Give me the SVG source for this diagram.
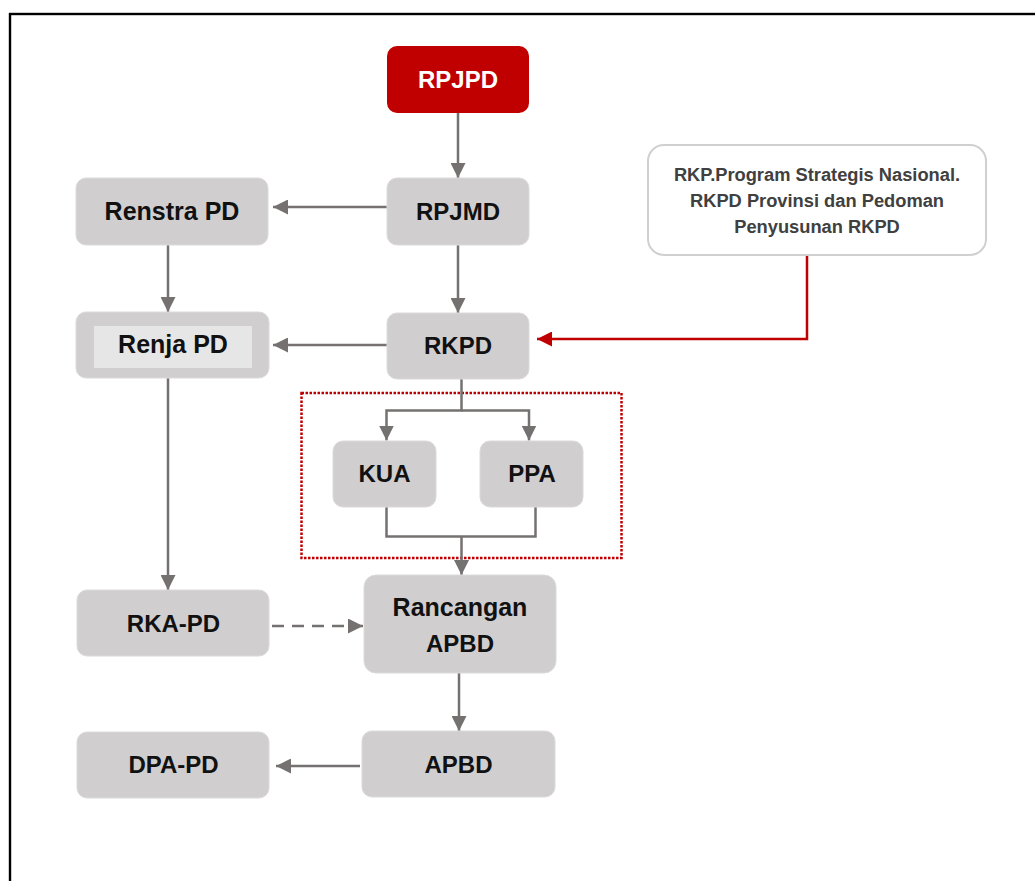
<svg xmlns="http://www.w3.org/2000/svg" width="1035" height="881" viewBox="0 0 1035 881">
<style>
.box{fill:#D0CECE;stroke:#DCDADA;stroke-width:1}
.lbl{font-family:"Liberation Sans",Arial,sans-serif;font-weight:bold;font-size:24px;fill:#111;text-anchor:middle}
.lbl2{font-size:25px}
.info{font-family:"Liberation Sans",Arial,sans-serif;font-weight:bold;font-size:18.3px;fill:#404040;text-anchor:middle}
.con{fill:none;stroke:#767171;stroke-width:2.5}
.red{fill:none;stroke:#C00000;stroke-width:2.5}
</style>
<defs>
<marker id="ag" markerUnits="userSpaceOnUse" markerWidth="15" markerHeight="15" refX="15" refY="7.5" orient="auto" viewBox="0 0 15 15">
<path d="M0,0 L15,7.5 L0,15 z" fill="#767171"/>
</marker>
<marker id="ar" markerUnits="userSpaceOnUse" markerWidth="15" markerHeight="15" refX="15" refY="7.5" orient="auto" viewBox="0 0 15 15">
<path d="M0,0 L15,7.5 L0,15 z" fill="#C00000"/>
</marker>
</defs>
<rect width="1035" height="881" fill="#FFFFFF"/>
<rect x="10" y="14" width="1100" height="1000" fill="none" stroke="#000" stroke-width="2.4"/>

<rect id="group-box" x="301.5" y="393" width="320" height="165" fill="none" stroke="#C00000" stroke-width="2.5" stroke-dasharray="2.5 1.5"/>

<g id="connectors">
<path class="con" d="M458,113 V178" marker-end="url(#ag)"/>
<path class="con" d="M387,207 H273" marker-end="url(#ag)"/>
<path class="con" d="M168,245 V312" marker-end="url(#ag)"/>
<path class="con" d="M458,245 V313" marker-end="url(#ag)"/>
<path class="con" d="M387,345 H273" marker-end="url(#ag)"/>
<path class="con" d="M461.5,379 V410.5 H386.5 V440.5" marker-end="url(#ag)"/>
<path class="con" d="M461.5,410.5 H529 V440.5" marker-end="url(#ag)"/>
<path class="con" d="M386.5,507 V536.5 H535.5 V507"/>
<path class="con" d="M461.5,536.5 V575" marker-end="url(#ag)"/>
<path class="con" d="M168,378 V590" marker-end="url(#ag)"/>
<path class="con" d="M272,626 H363" stroke-dasharray="12 8" marker-end="url(#ag)"/>
<path class="con" d="M459,673 V731" marker-end="url(#ag)"/>
<path class="con" d="M360,766 H276" marker-end="url(#ag)"/>
<path class="red" d="M807,256 V339 H537" marker-end="url(#ar)"/>
</g>

<g id="rpjpd">
<rect x="387" y="46" width="142" height="67" rx="10" fill="#C00000"/>
<text class="lbl" x="458" y="88" style="fill:#fff">RPJPD</text>
</g>
<g id="rpjmd">
<rect class="box" x="387" y="178" width="142" height="67" rx="10"/>
<text class="lbl" x="458" y="220">RPJMD</text>
</g>
<g id="renstra">
<rect class="box" x="76" y="178" width="192" height="67" rx="10"/>
<text class="lbl lbl2" x="172" y="220">Renstra PD</text>
</g>
<g id="renja">
<rect class="box" x="76" y="312" width="193" height="66" rx="10"/>
<rect x="94" y="326" width="158" height="42" fill="#E7E6E6"/>
<text class="lbl lbl2" x="173" y="353">Renja PD</text>
</g>
<g id="rkpd">
<rect class="box" x="387" y="313" width="142" height="66" rx="10"/>
<text class="lbl" x="458" y="354">RKPD</text>
</g>
<g id="info">
<rect x="648" y="145" width="338" height="110" rx="16" fill="#fff" stroke="#D0D0D0" stroke-width="2"/>
<text class="info" x="817" y="181">RKP.Program Strategis Nasional.</text>
<text class="info" x="817" y="207">RKPD Provinsi dan Pedoman</text>
<text class="info" x="817" y="233">Penyusunan RKPD</text>
</g>
<g id="kua">
<rect class="box" x="333" y="441" width="103" height="66" rx="10"/>
<text class="lbl" x="384.5" y="482">KUA</text>
</g>
<g id="ppa">
<rect class="box" x="480" y="441" width="103" height="66" rx="10"/>
<text class="lbl" x="532" y="482">PPA</text>
</g>
<g id="rka-pd">
<rect class="box" x="77" y="590" width="192" height="66" rx="10"/>
<text class="lbl" x="173.5" y="632">RKA-PD</text>
</g>
<g id="rancangan-apbd">
<rect class="box" x="364" y="575" width="192" height="98" rx="12"/>
<text class="lbl lbl2" x="460" y="616">Rancangan</text>
<text class="lbl" x="460" y="652">APBD</text>
</g>
<g id="apbd">
<rect class="box" x="362" y="731" width="193" height="66" rx="10"/>
<text class="lbl" x="458.5" y="773">APBD</text>
</g>
<g id="dpa-pd">
<rect class="box" x="77" y="732" width="192" height="66" rx="10"/>
<text class="lbl" x="173.5" y="773">DPA-PD</text>
</g>
</svg>
